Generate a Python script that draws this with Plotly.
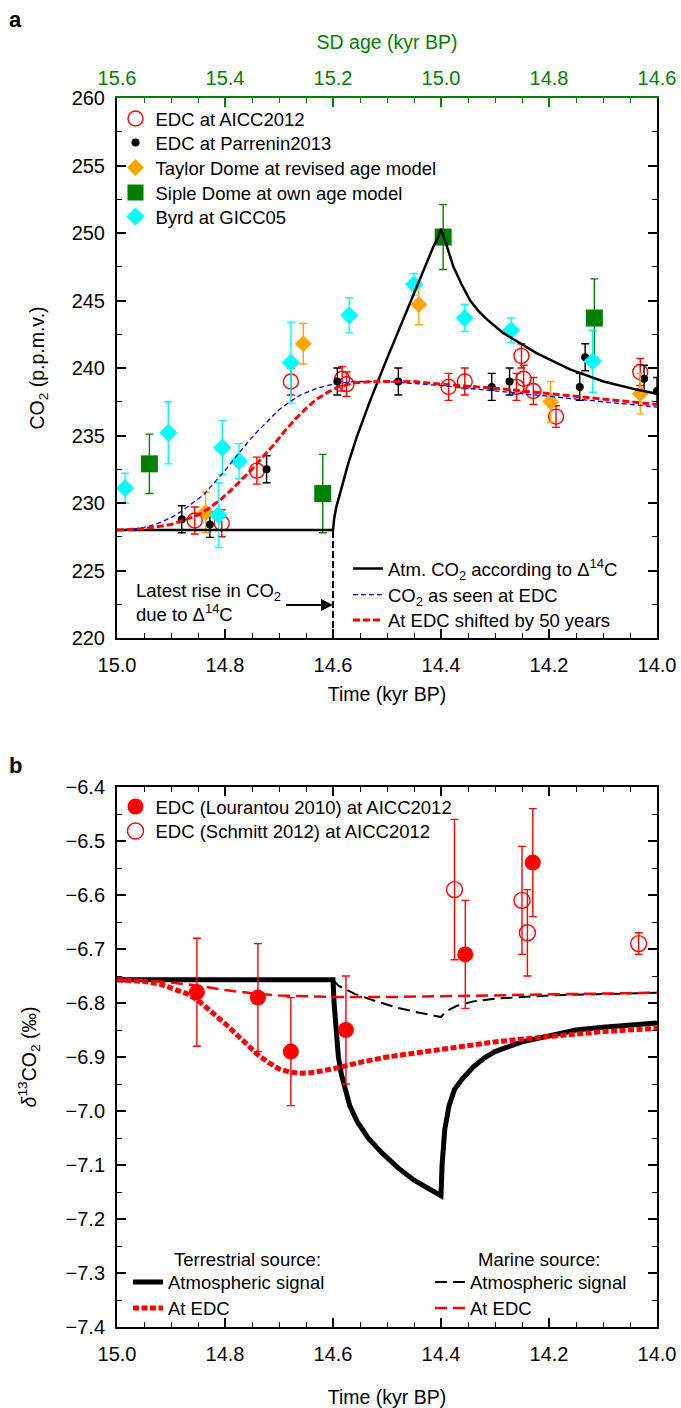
import plotly.graph_objects as go

FONT = "Liberation Sans, Arial, Helvetica, sans-serif"
W, H = 681, 1408

# ---- panel a: CO2 records (time in kyr BP, CO2 in p.p.m.v.) ----
edc_aicc_t = [14.856, 14.806, 14.741, 14.678, 14.583, 14.575, 14.386, 14.356,
              14.260, 14.251, 14.247, 14.229, 14.187, 14.031]
edc_aicc_co2 = [228.7, 228.5, 232.4, 239.0, 239.2, 238.8, 238.6, 239.0,
                238.6, 240.9, 239.2, 238.3, 236.4, 239.7]
edc_aicc_err = [1.0, 1.0, 1.0, 1.0, 0.9, 0.9, 1.0, 1.0, 1.0, 0.9, 1.0, 1.0, 0.8, 1.0]

edc_par_t = [14.880, 14.828, 14.723, 14.592, 14.479, 14.306, 14.273, 14.143, 14.133, 14.024, 14.000]
edc_par_co2 = [228.8, 228.4, 232.5, 239.0, 239.0, 238.6, 239.0, 238.6, 240.8, 239.2, 238.3]
edc_par_err = [1.0, 0.95, 1.0, 1.0, 1.0, 1.0, 1.0, 1.0, 1.0, 1.0, 1.0]

taylor_t = [14.836, 14.655, 14.441, 14.197, 14.031]
taylor_co2 = [229.3, 241.8, 244.7, 237.5, 238.1]
taylor_err = [1.5, 1.5, 1.5, 1.5, 1.5]

siple_t = [14.940, 14.619, 14.396, 14.116]
siple_co2 = [232.9, 230.7, 249.7, 243.7]
siple_err = [2.2, 2.9, 2.4, 2.9]

byrd_t = [14.985, 14.905, 14.812, 14.805, 14.774, 14.678, 14.570, 14.450, 14.356, 14.270, 14.119]
byrd_co2 = [231.1, 235.2, 229.1, 234.1, 233.1, 240.4, 243.9, 246.2, 243.7, 242.8, 240.5]
byrd_err = [1.1, 2.3, 2.4, 2.0, 1.3, 3.0, 1.3, 0.8, 1.0, 0.9, 2.3]

atm_t = [15.0, 14.6, 14.598, 14.594, 14.587, 14.572, 14.556, 14.531, 14.501, 14.470,
         14.439, 14.414, 14.405, 14.400, 14.389, 14.377, 14.362, 14.346, 14.330, 14.315,
         14.285, 14.223, 14.161, 14.099, 14.038, 14.0]
atm_co2 = [228.0, 228.0, 228.8, 229.7, 230.7, 232.9, 234.9, 237.6, 240.6, 243.6,
           246.5, 249.0, 249.7, 250.3, 249.0, 247.5, 246.2, 245.0, 244.2, 243.6,
           242.6, 241.1, 239.9, 239.0, 238.4, 238.1]

edc_seen_t = [15.0, 14.96, 14.93, 14.90, 14.88, 14.86, 14.84, 14.82, 14.80, 14.78, 14.76,
              14.74, 14.72, 14.70, 14.68, 14.66, 14.63, 14.60, 14.56, 14.50, 14.40,
              14.30, 14.20, 14.10, 14.00]
edc_seen_co2 = [228.0, 228.1, 228.4, 228.9, 229.4, 230.0, 230.6, 231.5, 232.4, 233.4, 234.4,
                235.3, 236.1, 236.9, 237.5, 238.0, 238.5, 238.8, 239.0, 239.0, 238.7,
                238.3, 237.9, 237.5, 237.1]

edc_shift_t = [15.0, 14.95, 14.90, 14.87, 14.85, 14.83, 14.81, 14.79, 14.77, 14.75, 14.73,
               14.71, 14.69, 14.67, 14.65, 14.63, 14.61, 14.59, 14.56, 14.52, 14.45,
               14.40, 14.30, 14.20, 14.10, 14.00]
edc_shift_co2 = [228.0, 228.1, 228.4, 228.8, 229.1, 229.6, 230.2, 230.9, 231.7, 232.5, 233.4,
                 234.3, 235.3, 236.2, 237.0, 237.7, 238.2, 238.6, 238.9, 239.0, 239.0,
                 238.8, 238.5, 238.1, 237.7, 237.3]

rise_t = 14.6          # latest rise in CO2 due to D14C
co2_base = 228.0
co2_min = 220.0

# ---- panel b: d13CO2 (permil) ----
lour_t = [14.852, 14.739, 14.678, 14.576, 14.355, 14.230]
lour_d13 = [-6.78, -6.79, -6.89, -6.85, -6.71, -6.54]
lour_err = [0.10, 0.10, 0.10, 0.10, 0.10, 0.10]

schm_t = [14.375, 14.250, 14.240, 14.034]
schm_d13 = [-6.59, -6.61, -6.67, -6.69]
schm_err = [0.13, 0.10, 0.08, 0.02]

terr_atm_t = [15.0, 14.6, 14.598, 14.594, 14.590, 14.585, 14.578, 14.569, 14.555, 14.535,
              14.510, 14.480, 14.450, 14.420, 14.400, 14.398, 14.393, 14.385, 14.375, 14.360,
              14.340, 14.320, 14.300, 14.250, 14.200, 14.150, 14.100, 14.050, 14.000]
terr_atm_d13 = [-6.757, -6.757, -6.80, -6.86, -6.90, -6.93, -6.96, -6.99, -7.02, -7.05,
                -7.077, -7.105, -7.128, -7.147, -7.157, -7.10, -7.034, -6.99, -6.96, -6.94,
                -6.918, -6.902, -6.89, -6.872, -6.86, -6.85, -6.845, -6.84, -6.837]

terr_edc_t = [15.0, 14.95, 14.92, 14.90, 14.87, 14.85, 14.82, 14.80, 14.78, 14.76, 14.74,
              14.72, 14.70, 14.68, 14.66, 14.64, 14.60, 14.55, 14.50, 14.45, 14.40,
              14.30, 14.20, 14.10, 14.00]
terr_edc_d13 = [-6.757, -6.760, -6.765, -6.772, -6.783, -6.795, -6.820, -6.838, -6.857, -6.876,
                -6.895, -6.910, -6.922, -6.928, -6.930, -6.929, -6.922, -6.910, -6.900, -6.893,
                -6.886, -6.872, -6.862, -6.853, -6.847]

mar_atm_t = [15.0, 14.6, 14.59, 14.56, 14.52, 14.48, 14.44, 14.40, 14.39, 14.37, 14.34,
             14.30, 14.20, 14.10, 14.00]
mar_atm_d13 = [-6.757, -6.757, -6.768, -6.783, -6.797, -6.809, -6.818, -6.826, -6.815, -6.805,
               -6.797, -6.792, -6.786, -6.783, -6.781]

mar_edc_t = [15.0, 14.95, 14.90, 14.85, 14.80, 14.75, 14.70, 14.65, 14.60, 14.50, 14.40,
             14.30, 14.20, 14.10, 14.00]
mar_edc_d13 = [-6.757, -6.758, -6.762, -6.768, -6.776, -6.782, -6.786, -6.788, -6.789, -6.789,
               -6.788, -6.786, -6.784, -6.782, -6.781]

sd_age_ticks = [15.6, 15.4, 15.2, 15.0, 14.8, 14.6]

RED = "#ff0000"
GREEN = "#008000"
ORANGE = "#ffa500"
CYAN = "#00ffff"
BLUE = "#0000ff"

leg_font = dict(family=FONT, size=18.5)
tick_font = dict(family=FONT, size=20, color="black")
title_font = dict(family=FONT, size=19.5, color="black")

# one legend per entry so the rows can sit where the original has them
legends = {}


def leg(x_px, y_px):
    key = "legend" if not legends else "legend%d" % (len(legends) + 1)
    legends[key] = dict(x=x_px / W, y=1 - y_px / H, xanchor="left", yanchor="middle",
                        bgcolor="rgba(0,0,0,0)", font=leg_font, borderwidth=0)
    return key


fig = go.Figure()


def err_points(t, v, err, name, color, symbol, size, legend, xa="x", ya="y",
               open_marker=False):
    marker = dict(color=color, symbol=symbol, size=size)
    if open_marker:
        marker = dict(color=color, symbol=symbol + "-open", size=size, line=dict(width=1.4))
    fig.add_trace(go.Scatter(
        x=t, y=v, mode="markers", name=name, marker=marker,
        error_y=dict(type="data", array=err, color=color, thickness=1.4, width=4),
        xaxis=xa, yaxis=ya, legend=legend))


# panel a markers
err_points(edc_aicc_t, edc_aicc_co2, edc_aicc_err, "EDC at AICC2012", RED, "circle", 15,
           leg(115.5, 119), open_marker=True)
err_points(edc_par_t, edc_par_co2, edc_par_err, "EDC at Parrenin2013", "black", "circle", 8,
           leg(115.5, 143))
err_points(taylor_t, taylor_co2, taylor_err, "Taylor Dome at revised age model", ORANGE,
           "diamond", 13, leg(115.5, 168))
err_points(siple_t, siple_co2, siple_err, "Siple Dome at own age model", GREEN, "square", 17,
           leg(115.5, 193))
err_points(byrd_t, byrd_co2, byrd_err, "Byrd at GICC05", CYAN, "diamond", 14, leg(115.5, 217))

# panel a model curves
fig.add_trace(go.Scatter(x=atm_t, y=atm_co2, mode="lines", legend=leg(348, 569),
                         name="Atm. CO<sub>2</sub> according to Δ<sup>14</sup>C",
                         line=dict(color="black", width=2.5)))
fig.add_trace(go.Scatter(x=edc_seen_t, y=edc_seen_co2, mode="lines", legend=leg(348, 595),
                         name="CO<sub>2</sub> as seen at EDC",
                         line=dict(color=BLUE, width=1.3, dash="5px,3px")))
fig.add_trace(go.Scatter(x=edc_shift_t, y=edc_shift_co2, mode="lines", legend=leg(348, 620.5),
                         name="At EDC shifted by 50 years",
                         line=dict(color=RED, width=3, dash="7px,3px")))
fig.add_trace(go.Scatter(x=[rise_t, rise_t], y=[co2_min, co2_base], mode="lines",
                         showlegend=False, hoverinfo="skip",
                         line=dict(color="black", width=2, dash="7px,3px")))

# dummy trace so the SD age axis is drawn
fig.add_trace(go.Scatter(x=sd_age_ticks, y=[None] * len(sd_age_ticks), mode="markers",
                         xaxis="x3", yaxis="y", showlegend=False, hoverinfo="skip"))

# panel b model curves
fig.add_trace(go.Scatter(x=terr_atm_t, y=terr_atm_d13, mode="lines", name="Atmospheric signal",
                         xaxis="x2", yaxis="y2", legend=leg(128, 1282.5),
                         line=dict(color="black", width=5)))
fig.add_trace(go.Scatter(x=terr_edc_t, y=terr_edc_d13, mode="lines", name="At EDC",
                         xaxis="x2", yaxis="y2", legend=leg(128, 1308.5),
                         line=dict(color=RED, width=5, dash="6px,2.5px")))
fig.add_trace(go.Scatter(x=mar_atm_t, y=mar_atm_d13, mode="lines", name="Atmospheric signal",
                         xaxis="x2", yaxis="y2", legend=leg(430, 1282.5),
                         line=dict(color="black", width=2, dash="12px,6px")))
fig.add_trace(go.Scatter(x=mar_edc_t, y=mar_edc_d13, mode="lines", name="At EDC",
                         xaxis="x2", yaxis="y2", legend=leg(430, 1308.5),
                         line=dict(color=RED, width=2.5, dash="12px,6px")))

# panel b data
err_points(lour_t, lour_d13, lour_err, "EDC (Lourantou 2010) at AICC2012", RED, "circle", 16,
           leg(115.5, 807), xa="x2", ya="y2")
err_points(schm_t, schm_d13, schm_err, "EDC (Schmitt 2012) at AICC2012", RED, "circle", 16,
           leg(115.5, 831.5), xa="x2", ya="y2", open_marker=True)

fx0, fx1 = 117 / W, 657 / W
ya_dom = [1 - 638 / H, 1 - 98 / H]
yb_dom = [1 - 1327 / H, 1 - 787 / H]


def xax(**kw):
    d = dict(domain=[fx0, fx1], range=[15.0, 14.0], tick0=14.0, dtick=0.2, tickformat=".1f",
             ticks="inside", ticklen=9, tickwidth=1.5, tickcolor="black", automargin=False,
             showline=True, linecolor="black", linewidth=2, showgrid=False, zeroline=False,
             tickfont=tick_font, ticklabelstandoff=8, ticklabeloverflow="allow",
             minor=dict(dtick=0.05, tick0=14.0, ticks="inside", ticklen=5, tickwidth=1.2,
                        tickcolor="black", showgrid=False))
    d.update(kw)
    return d


def yax(**kw):
    d = dict(ticks="inside", ticklen=9, tickwidth=1.5, tickcolor="black", showline=True,
             linecolor="black", linewidth=2, mirror="ticks", showgrid=False, zeroline=False,
             tickfont=tick_font, ticklabelstandoff=6, automargin=False)
    d.update(kw)
    return d


fig.update_layout(
    width=W, height=H,
    margin=dict(l=0, r=0, t=0, b=0),
    paper_bgcolor="white", plot_bgcolor="white",
    font=dict(family=FONT, size=18.5, color="black"),
    xaxis=xax(anchor="y", title=dict(text="Time (kyr BP)", font=title_font, standoff=12)),
    xaxis3=xax(anchor="y", overlaying="x", side="top", range=[15.6, 14.6], tick0=14.6,
               linecolor=GREEN, tickcolor=GREEN, ticklabelstandoff=3,
               tickfont=dict(family=FONT, size=20, color=GREEN),
               minor=dict(dtick=0.05, tick0=14.6, ticks="inside", ticklen=5, tickwidth=1.2,
                          tickcolor=GREEN, showgrid=False),
               title=dict(text="SD age (kyr BP)", font=dict(family=FONT, size=19.5, color=GREEN),
                          standoff=12)),
    yaxis=yax(domain=ya_dom, anchor="x", range=[220, 260], dtick=5,
              minor=dict(dtick=2.5, ticks="inside", ticklen=5, tickwidth=1.2, tickcolor="black",
                         showgrid=False),
              title=dict(text="CO<sub>2</sub> (p.p.m.v.)", font=title_font, standoff=22)),
    xaxis2=xax(anchor="y2", mirror="ticks",
               title=dict(text="Time (kyr BP)", font=title_font, standoff=38)),
    yaxis2=yax(domain=yb_dom, anchor="x2", range=[-7.4, -6.4], dtick=0.1, tickformat=".1f",
               minor=dict(dtick=0.05, ticks="inside", ticklen=5, tickwidth=1.2,
                          tickcolor="black", showgrid=False),
               title=dict(text="<i>δ</i><sup>13</sup>CO<sub>2</sub> (‰)", font=title_font,
                          standoff=24)),
    showlegend=True,
    **legends,
)

fig.add_annotation(x=14.968, y=222.6, xref="x", yref="y", xanchor="left", showarrow=False,
                   align="left", text="Latest rise in CO<sub>2</sub><br>due to Δ<sup>14</sup>C",
                   font=dict(family=FONT, size=18.5))
fig.add_annotation(x=rise_t, y=222.45, ax=14.69, ay=222.45, xref="x", yref="y", axref="x",
                   ayref="y", text="", showarrow=True, arrowhead=2, arrowsize=1.2, arrowwidth=2,
                   arrowcolor="black")
fig.add_annotation(x=14.898, y=-7.275, xref="x2", yref="y2", xanchor="left", showarrow=False,
                   text="Terrestrial source:", font=dict(family=FONT, size=18.5))
fig.add_annotation(x=14.335, y=-7.275, xref="x2", yref="y2", xanchor="left", showarrow=False,
                   text="Marine source:", font=dict(family=FONT, size=18.5))
fig.add_annotation(x=15 / W, y=1 - 20 / H, xref="paper", yref="paper", xanchor="center",
                   yanchor="middle", showarrow=False, text="<b>a</b>",
                   font=dict(family=FONT, size=22))
fig.add_annotation(x=15 / W, y=1 - 765 / H, xref="paper", yref="paper", xanchor="center",
                   yanchor="middle", showarrow=False, text="<b>b</b>",
                   font=dict(family=FONT, size=22))

# drop the browser's default body margin so the figure fills the window
fig.write_html("out.html", config={"displayModeBar": False},
               post_script="document.body.style.margin = '0';")
